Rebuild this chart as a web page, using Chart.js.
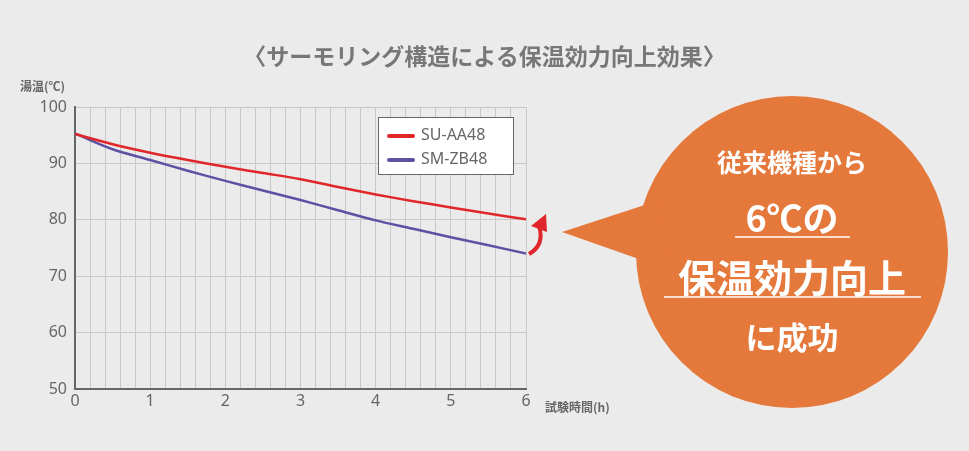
<!DOCTYPE html>
<html>
<head>
<meta charset="utf-8">
<script src="https://cdn.jsdelivr.net/npm/chart.js@4"></script>
<style>
  body { margin: 0; background: #ebebeb; font-family: "Noto Sans CJK JP", "Noto Sans", sans-serif; }
  #wrap { position: relative; width: 969px; height: 451px; overflow: hidden; }
  canvas { position: absolute; left: 0; top: 0; }
  .txt { position: absolute; color: #666; white-space: nowrap; }
  #legend { position: absolute; left: 378px; top: 117px; width: 134px; height: 56px; border: 1px solid #666; background: #fff; }
  .lg { position: absolute; left: 8px; font-size: 16px; color: #666; font-family: "Noto Sans", sans-serif; }
  .lg span { display: inline-block; width: 28px; height: 4px; border-radius: 2px; vertical-align: middle; margin-right: 6px; }
  svg { position: absolute; left: 0; top: 0; }
  .w { position: absolute; color: #fff; font-weight: bold; text-align: center; width: 310px; left: 637px; }
</style>
</head>
<body>
<div id="wrap">
  <canvas id="chart" width="969" height="451"></canvas>
  <svg width="969" height="451">
    <circle cx="792" cy="252" r="156" fill="#e5793b"/>
    <polygon points="562,232 660,200 670,270" fill="#e5793b"/>
    <line x1="735" y1="237" x2="850" y2="237" stroke="#fff" stroke-width="1.5"/>
    <line x1="664" y1="297" x2="921" y2="297" stroke="#fff" stroke-width="1.5"/>
    <path d="M529,254 Q545,245 539,226" stroke="#e0262a" stroke-width="4" fill="none"/>
    <polygon points="531,226 546,214 547,232" fill="#e0262a"/>
  </svg>
  <div class="txt" style="left:0;width:969px;text-align:center;top:38px;font-size:23px;font-weight:bold;color:#777;">〈サーモリング構造による保温効力向上効果〉</div>
  <div class="txt" style="left:20px;top:77px;font-size:12px;font-weight:bold;">湯温(℃)</div>
  <div class="txt" style="left:545px;top:398px;font-size:12px;font-weight:bold;">試験時間(h)</div>
  <div id="legend">
    <div class="lg" style="top:5px;"><span style="background:#e0262a"></span>SU-AA48</div>
    <div class="lg" style="top:29px;"><span style="background:#5c52a3"></span>SM-ZB48</div>
  </div>
  <div class="w" style="top:143px;font-size:25px;">従来機種から</div>
  <div class="w" style="top:190px;font-size:36px;">6℃の</div>
  <div class="w" style="top:248px;font-size:38px;">保温効力向上</div>
  <div class="w" style="top:313px;font-size:31px;">に成功</div>
</div>
<script>
const hours = [0, 0.5, 1, 1.5, 2, 2.5, 3, 3.5, 4, 4.5, 5, 5.5, 6];
const suAA48 = [95.2, 93.4, 91.9, 90.6, 89.4, 88.3, 87.2, 85.8, 84.5, 83.3, 82.2, 81.1, 80.1];
const smZB48 = [95.3, 92.5, 90.6, 88.7, 86.9, 85.2, 83.5, 81.7, 79.9, 78.4, 76.9, 75.5, 74.0];
const yTicks = [50, 60, 70, 80, 90, 100];

const toPts = (vals) => vals.map((v, i) => ({ x: hours[i], y: v }));

new Chart(document.getElementById('chart'), {
    type: 'line',
    data: {
        datasets: [
            { label: 'SU-AA48', data: toPts(suAA48), borderColor: '#e0262a', borderWidth: 2.5, pointRadius: 0, tension: 0.3 },
            { label: 'SM-ZB48', data: toPts(smZB48), borderColor: '#5c52a3', borderWidth: 2.5, pointRadius: 0, tension: 0.3 }
        ]
    },
    options: {
        responsive: false,
        animation: false,
        layout: { padding: { top: 107, right: 443, left: 0, bottom: 0 } },
        plugins: { legend: { display: false }, tooltip: { enabled: false } },
        scales: {
            x: {
                type: 'linear', min: 0, max: 6,
                afterFit: s => { s.height = 62; },
                ticks: {
                    stepSize: 0.2, autoSkip: false, maxRotation: 0,
                    color: '#666', font: { size: 16, family: 'Noto Sans' },
                    callback: v => Math.abs(v - Math.round(v)) < 1e-6 ? String(Math.round(v)) : ''
                },
                grid: { color: '#c8c8c8', drawTicks: false },
                border: { color: '#666', width: 2 }
            },
            y: {
                min: 50, max: 100,
                afterFit: s => { s.width = 75; },
                afterBuildTicks: s => { s.ticks = yTicks.map(v => ({ value: v })); },
                ticks: { color: '#666', padding: 8, font: { size: 16, family: 'Noto Sans' } },
                grid: { color: '#c8c8c8', drawTicks: false },
                border: { color: '#666', width: 2 }
            }
        }
    }
});
</script>
</body>
</html>
